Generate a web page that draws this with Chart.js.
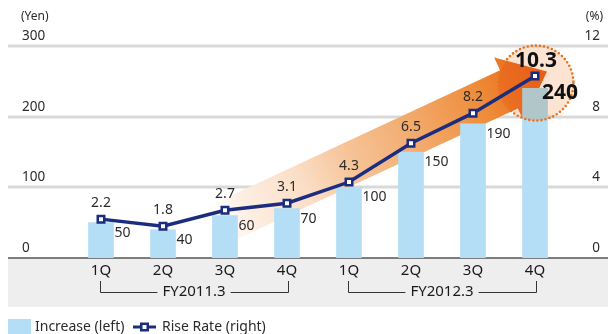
<!DOCTYPE html>
<html>
<head>
<meta charset="utf-8">
<script src="https://cdn.jsdelivr.net/npm/chart.js@4"></script>
<style>
  html, body { margin: 0; padding: 0; background: #fff; }
  canvas { display: block; }
</style>
</head>
<body>
<canvas id="c" width="608" height="334"></canvas>
<script>
const categories = ['1Q', '2Q', '3Q', '4Q', '1Q', '2Q', '3Q', '4Q'];
const fiscalYears = ['FY2011.3', 'FY2012.3'];
const increase = [50, 40, 60, 70, 100, 150, 190, 240];
const riseRate = [2.2, 1.8, 2.7, 3.1, 4.3, 6.5, 8.2, 10.3];
const leftTicks = [0, 100, 200, 300];
const rightTicks = [0, 4, 8, 12];
const legendLabels = ['Increase (left)', 'Rise Rate (right)'];

const FONT = '"Noto Sans", "Open Sans", sans-serif';
const BAR = '#b3def5';
const NAVY = '#1b2d7e';
const TXT = '#2b2b2b';

function drawMarker(ctx, x, y) {
  ctx.save();
  ctx.fillStyle = '#fff';
  ctx.strokeStyle = NAVY;
  ctx.lineWidth = 2.5;
  ctx.beginPath();
  ctx.rect(x - 3.25, y - 3.25, 6.5, 6.5);
  ctx.fill();
  ctx.stroke();
  ctx.restore();
}

const decor = {
  id: 'decor',
  beforeDatasetsDraw(chart) {
    const ctx = chart.ctx;
    const xs = chart.scales.x, yL = chart.scales.yL, yR = chart.scales.yR;
    const base = yL.getPixelForValue(0);
    ctx.save();
    // grey band under axis
    ctx.fillStyle = '#eeeeee';
    ctx.fillRect(8, base, 600, 49);
    // gridlines
    leftTicks.forEach(v => {
      if (v === 0) return;
      const y = Math.round(yL.getPixelForValue(v));
      ctx.strokeStyle = '#d9d9d9';
      ctx.lineWidth = 3;
      ctx.beginPath(); ctx.moveTo(8, y); ctx.lineTo(608, y); ctx.stroke();
    });
    ctx.strokeStyle = '#555';
    ctx.lineWidth = 1.5;
    ctx.beginPath(); ctx.moveTo(8, base); ctx.lineTo(608, base); ctx.stroke();

    // tick labels
    ctx.fillStyle = TXT;
    ctx.font = '13.5px ' + FONT;
    ctx.textBaseline = 'middle';
    ctx.textAlign = 'left';
    leftTicks.forEach(v => ctx.fillText(String(v), 22, yL.getPixelForValue(v) - 10));
    ctx.textAlign = 'right';
    rightTicks.forEach(v => ctx.fillText(String(v), 600, yR.getPixelForValue(v) - 10));
    ctx.font = '12px ' + FONT;
    ctx.textAlign = 'left';
    ctx.fillText('(Yen)', 21, 17);
    ctx.textAlign = 'right';
    ctx.fillText('(%)', 603, 17);

    // category labels
    ctx.font = '15px ' + FONT;
    ctx.textAlign = 'center';
    ctx.fillStyle = '#1a1a1a';
    categories.forEach((c, i) => ctx.fillText(c, xs.getPixelForValue(i), base + 12.5));

    // fiscal year brackets
    ctx.font = '15px ' + FONT;
    fiscalYears.forEach((fy, g) => {
      const x1 = xs.getPixelForValue(g * 4) - 1;
      const x2 = xs.getPixelForValue(g * 4 + 3) + 1;
      const yb = base + 34;
      const mid = (x1 + x2) / 2;
      const w = ctx.measureText(fy).width / 2 + 5;
      ctx.strokeStyle = '#333';
      ctx.lineWidth = 1;
      ctx.beginPath();
      ctx.moveTo(x1 + 0.5, base + 23); ctx.lineTo(x1 + 0.5, yb + 0.5); ctx.lineTo(mid - w, yb + 0.5);
      ctx.moveTo(mid + w, yb + 0.5); ctx.lineTo(x2 + 0.5, yb + 0.5); ctx.lineTo(x2 + 0.5, base + 23);
      ctx.stroke();
      ctx.fillText(fy, mid, yb);
    });

    // big trend arrow
    const T = { x: xs.getPixelForValue(2) - 10, y: yR.getPixelForValue(1.8) };
    const P = { x: xs.getPixelForValue(7) + 12, y: yR.getPixelForValue(10.55) };
    const dx = P.x - T.x, dy = P.y - T.y, len = Math.hypot(dx, dy);
    const ux = dx / len, uy = dy / len, nx = -uy, ny = ux;
    const B = { x: P.x - ux * 42, y: P.y - uy * 42 };
    const sw = 21, hw = 35;
    const g = ctx.createLinearGradient(T.x, T.y, P.x, P.y);
    g.addColorStop(0, 'rgba(253,240,230,0)');
    g.addColorStop(0.1, 'rgba(253,238,226,1)');
    g.addColorStop(0.26, '#fbdfc8');
    g.addColorStop(0.41, '#f6c498');
    g.addColorStop(0.62, '#f2a869');
    g.addColorStop(0.8, '#ee8d3b');
    g.addColorStop(0.88, '#ec7a28');
    g.addColorStop(1, '#e96818');
    ctx.fillStyle = g;
    ctx.beginPath();
    ctx.moveTo(T.x + nx * sw, T.y + ny * sw);
    ctx.lineTo(B.x + nx * sw, B.y + ny * sw);
    ctx.lineTo(B.x + nx * hw, B.y + ny * hw);
    ctx.lineTo(P.x, P.y);
    ctx.lineTo(B.x - nx * hw, B.y - ny * hw);
    ctx.lineTo(B.x - nx * sw, B.y - ny * sw);
    ctx.lineTo(T.x - nx * sw, T.y - ny * sw);
    ctx.closePath();
    ctx.fill();
    ctx.restore();
  },
  afterDatasetDraw(chart, args) {
    if (args.index !== 0) return;
    const ctx = chart.ctx;
    const pt = chart.getDatasetMeta(1).data[riseRate.length - 1];
    const cx = pt.x + 1, cy = pt.y + 7, r = 37.5;
    ctx.save();
    ctx.globalCompositeOperation = 'multiply';
    ctx.fillStyle = '#fde4d2';
    ctx.beginPath(); ctx.arc(cx, cy, r, 0, Math.PI * 2); ctx.fill();
    ctx.globalCompositeOperation = 'source-over';
    ctx.strokeStyle = '#e8731f';
    ctx.lineWidth = 2.6;
    ctx.lineCap = 'round';
    ctx.setLineDash([0, 4.1]);
    ctx.beginPath(); ctx.arc(cx, cy, r, 0, Math.PI * 2); ctx.stroke();
    ctx.restore();
  },
  afterDatasetsDraw(chart) {
    const ctx = chart.ctx;
    const bars = chart.getDatasetMeta(0).data;
    const pts = chart.getDatasetMeta(1).data;
    const last = increase.length - 1;
    ctx.save();
    ctx.fillStyle = TXT;
    ctx.textBaseline = 'middle';
    bars.forEach((b, i) => {
      if (i === last) {
        ctx.font = 'bold 21px ' + FONT;
        ctx.textAlign = 'center';
        ctx.fillStyle = '#111';
        ctx.fillText(String(increase[i]), b.x + 25, b.y + 5);
      } else {
        ctx.font = '14px ' + FONT;
        ctx.textAlign = 'left';
        ctx.fillStyle = TXT;
        ctx.fillText(String(increase[i]), b.x + 13.5, b.y + 10);
      }
    });
    pts.forEach((p, i) => {
      ctx.textAlign = 'center';
      if (i === last) {
        ctx.font = 'bold 21px ' + FONT;
        ctx.fillStyle = '#111';
        ctx.fillText(riseRate[i].toFixed(1), p.x + 1, p.y - 15);
      } else {
        ctx.font = '14px ' + FONT;
        ctx.fillStyle = TXT;
        ctx.fillText(riseRate[i].toFixed(1), p.x, p.y - 16);
      }
    });

    // legend
    const ly = 327;
    ctx.fillStyle = BAR;
    ctx.fillRect(8, 319, 23, 15);
    ctx.fillStyle = TXT;
    ctx.font = '14px ' + FONT;
    ctx.textAlign = 'left';
    ctx.fillText(legendLabels[0], 35, ly);
    ctx.strokeStyle = NAVY;
    ctx.lineWidth = 3;
    ctx.beginPath(); ctx.moveTo(133, ly); ctx.lineTo(156, ly); ctx.stroke();
    drawMarker(ctx, 144.5, ly);
    ctx.fillStyle = TXT;
    ctx.fillText(legendLabels[1], 162, ly);
    ctx.restore();
  }
};

new Chart(document.getElementById('c'), {
  type: 'bar',
  data: {
    labels: categories,
    datasets: [
      {
        type: 'bar',
        label: legendLabels[0],
        data: increase,
        yAxisID: 'yL',
        backgroundColor: BAR,
        borderWidth: 0,
        barThickness: 25,
        order: 2
      },
      {
        type: 'line',
        label: legendLabels[1],
        data: riseRate,
        yAxisID: 'yR',
        borderColor: NAVY,
        borderWidth: 3.5,
        tension: 0,
        pointStyle: 'rect',
        pointRadius: 4.6,
        pointBackgroundColor: '#fff',
        pointBorderColor: NAVY,
        pointBorderWidth: 2.5,
        order: 1
      }
    ]
  },
  options: {
    responsive: false,
    animation: false,
    devicePixelRatio: 1,
    events: [],
    layout: { padding: { left: 70, right: 42, top: 46, bottom: 76 } },
    plugins: { legend: { display: false }, tooltip: { enabled: false } },
    scales: {
      x: { display: false, offset: true },
      yL: { display: false, position: 'left', min: 0, max: 300 },
      yR: { display: false, position: 'right', min: 0, max: 12 }
    }
  },
  plugins: [decor]
});
</script>
</body>
</html>
